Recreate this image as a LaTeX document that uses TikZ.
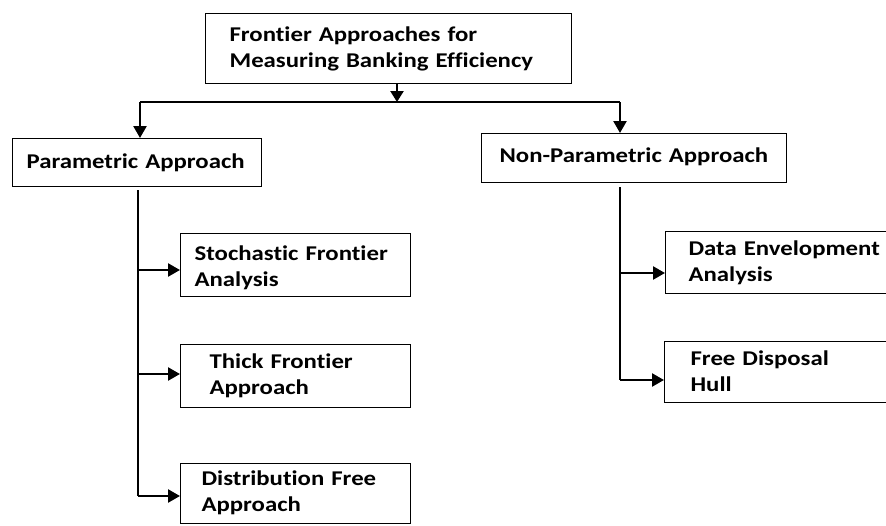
\documentclass[tikz,border=0pt]{standalone}
\usepackage{fontspec}
\newfontfamily\boxfont{Carlito}[FakeStretch=1.18, Ligatures={NoCommon}]
\usepackage{tikz}
\usetikzlibrary{calc,arrows.meta}

\tikzset{
	approach/.style={draw, line width=1.2pt, anchor=north west, align=left, inner ysep=0pt,
		font=\boxfont\bfseries\fontsize{21}{25.5}\selectfont},
	branch/.style={line width=2.4pt, -{Triangle[length=12pt,width=13pt]}},
	trunk/.style={line width=1.4pt}
}

\begin{document}
\begin{tikzpicture}[x=1pt,y=-1pt]
			\useasboundingbox (0,0) rectangle (886,525);
			\clip (0,0) rectangle (886,525);
			
			%boxes
			\node[approach, text width=318pt, inner xsep=24pt, text height=28pt, text depth=42pt] (top) at (205,13) {Frontier Approaches for\\Measuring Banking Efficiency};
			\node[approach, text width=221pt, inner xsep=14pt, text height=30pt, text depth=18pt] (param) at (12,138) {Parametric Approach};
			\node[approach, text width=269pt, inner xsep=18pt, text height=29pt, text depth=20pt] (nonparam) at (481,133) {Non-Parametric Approach};
			\node[approach, text width=202pt, inner xsep=14pt, text height=27pt, text depth=36pt] (sfa) at (180,233) {Stochastic Frontier\\Analysis};
			\node[approach, text width=172pt, inner xsep=29pt, text height=24pt, text depth=39pt] (tfa) at (180,344) {Thick Frontier\\Approach};
			\node[approach, text width=188pt, inner xsep=21pt, text height=22pt, text depth=38pt] (dfa) at (180,463) {Distribution Free\\Approach};
			\node[approach, text width=204pt, inner xsep=23pt, text height=24pt, text depth=38pt] (dea) at (665,231) {Data Envelopment\\Analysis};
			\node[approach, text width=199pt, inner xsep=26pt, text height=24pt, text depth=37pt] (fdh) at (664,341) {Free Disposal\\Hull};
			
			%split below the top box
			\coordinate (split) at (397,102);
			\coordinate (lsplit) at (140,102);
			\coordinate (rsplit) at (620,102);
			\draw[line width=2.4pt, -{Triangle[length=11pt,width=13pt]}] (top.south -| split) -- (split);
			\draw[trunk] (lsplit) -- (rsplit);
			\draw[branch] (lsplit) -- (lsplit |- param.north);
			\draw[branch] (rsplit) -- (rsplit |- nonparam.north);
			
			%parametric side
			\coordinate (ptop) at (138,190);
			\coordinate (p1) at (138,270);
			\coordinate (p2) at (138,374);
			\coordinate (p3) at (138,496);
			\draw[trunk] (ptop) -- (p3);
			\draw[branch] (p1) -- (p1 -| sfa.west);
			\draw[branch] (p2) -- (p2 -| tfa.west);
			\draw[branch] (p3) -- (p3 -| dfa.west);
			
			%non-parametric side
			\coordinate (ntop) at (620,187);
			\coordinate (n1) at (620,273);
			\coordinate (n2) at (620,380);
			\draw[trunk] (ntop) -- (n2);
			\draw[branch] (n1) -- (n1 -| dea.west);
			\draw[branch] (n2) -- (n2 -| fdh.west);
\end{tikzpicture}
\end{document}
